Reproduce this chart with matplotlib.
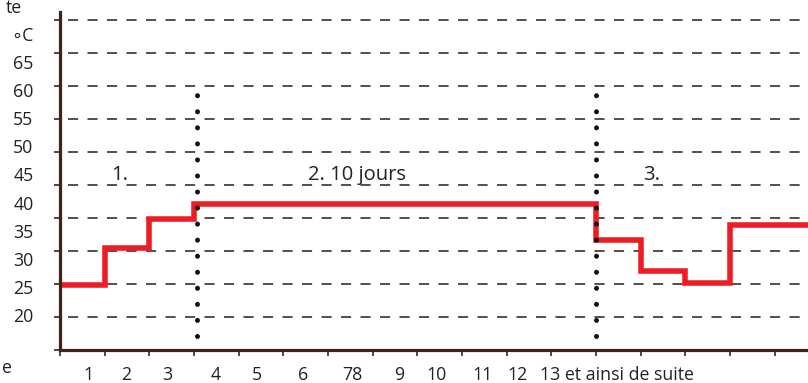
import matplotlib.pyplot as plt

plt.rcParams["font.family"] = ["Open Sans", "DejaVu Sans"]

# temperature profile: step edges (days) and the level held on each step (°C)
step_edges = [0, 1, 2, 3, 12, 13, 14, 15, 16.75]
step_temps = [24.8, 30.4, 34.8, 37.1, 31.7, 27.0, 25.2, 33.9]

grid_levels = [20, 25, 30, 35, 40, 45, 50, 55, 60, 65]
temp_labels = ["20", "25", "30", "35", "40", "45", "50", "55", "60", "65", "\u2218C"]
temp_label_values = [20, 25, 30, 35, 40, 45, 50, 55, 60, 65, 70]

day_labels = ["1", "2", "3", "4", "5", "6", "78", "9", "10", "11", "12",
              "13 et ainsi de suite"]
day_label_pos = [0.63, 1.48, 2.40, 3.49, 4.41, 5.44, 6.54, 7.59, 8.44,
                 9.45, 10.24, 12.47]

phase_bounds = [3.07, 12.0]
phase_names = ["1.", "2. 10 jours", "3."]
phase_x = [1.34, 6.65, 13.24]

BROWN = "#3d2416"
GRID = "#4e3f35"
RED = "#ee1c25"
FS = 12.8

fig = plt.figure(figsize=(8.08, 3.83), dpi=100)
ax = fig.add_axes([60 / 808, 33 / 383, 748 / 808, 338 / 383])
ax.set_xlim(0, 16.75)
ax.set_ylim(15, 66.2)

for side in ("top", "right"):
    ax.spines[side].set_visible(False)
for side in ("left", "bottom"):
    ax.spines[side].set_color(BROWN)
    ax.spines[side].set_linewidth(2.3)

# dashed reference levels
ax.hlines(grid_levels, 0.17, 16.75, colors=GRID, linewidth=1.3,
          linestyles=(0, (5.6, 5.2)), zorder=1)

# phase separators as round dots
seps = ax.vlines(phase_bounds, 17.1, 53.8, colors="#111111", linewidth=3.6,
                 linestyles=(0, (0.01, 3.2)), zorder=3)
seps.set_capstyle("round")

ax.stairs(step_temps, step_edges, color=RED, linewidth=4.0, zorder=2,
          baseline=None)

for x, name in zip(phase_x, phase_names):
    ax.text(x, 41.5, name, ha="center", va="center", fontsize=14.5,
            color="#222222")

# axis ticks
ax.set_xticks(range(17))
ax.set_xticklabels([])
ax.tick_params(axis="x", which="major", direction="out", length=4,
               width=1.2, color=BROWN)
ax.set_xticks(day_label_pos, day_labels, minor=True)
ax.tick_params(axis="x", which="minor", length=0, pad=11.5, labelsize=FS,
               labelcolor="#222222")

ax.set_yticks([15] + grid_levels)
ax.set_yticklabels([])
ax.tick_params(axis="y", direction="out", length=4, width=1.2, color=BROWN)

# temperature labels sit on their own scale next to the axis
def to_label(v):
    return 20 + (6.6 * (v - 20) - 2) / 5.62


def from_label(t):
    return 20 + (5.62 * (t - 20) + 2) / 6.6


sec = ax.secondary_yaxis("left", functions=(to_label, from_label))
sec.spines["left"].set_visible(False)
sec.set_yticks(temp_label_values, temp_labels)
sec.tick_params(axis="y", length=0, pad=19, labelsize=FS,
                labelcolor="#222222")

fig.text(22 / 808, 1 - 13 / 383, "te", ha="right", va="baseline",
         fontsize=FS, color="#222222")
fig.text(12 / 808, 1 - 373 / 383, "e", ha="right", va="baseline",
         fontsize=FS, color="#222222")

fig.savefig("out.png", dpi=100)
